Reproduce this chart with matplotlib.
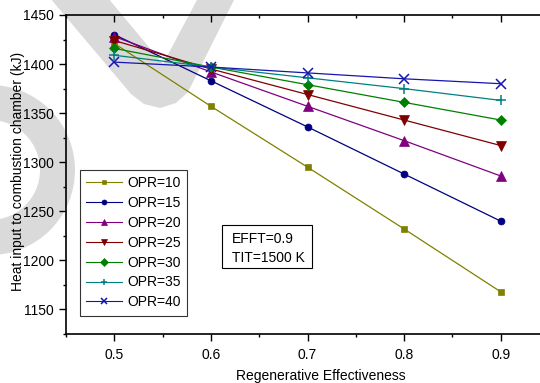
import matplotlib
matplotlib.use("Agg")
import matplotlib.pyplot as plt
from matplotlib.patches import Polygon, Wedge, Rectangle
from matplotlib.transforms import IdentityTransform
from matplotlib.ticker import MultipleLocator

plt.rcParams['font.family'] = ['Liberation Sans', 'DejaVu Sans']

W, H = 540, 383
DPI = 100

x_vals = [0.5, 0.6, 0.7, 0.8, 0.9]
labels = ["OPR=10", "OPR=15", "OPR=20", "OPR=25", "OPR=30", "OPR=35", "OPR=40"]
opr10 = [1421, 1357, 1295, 1232, 1168]
opr15 = [1430, 1383, 1336, 1288, 1240]
opr20 = [1428, 1392, 1357, 1322, 1286]
opr25 = [1424, 1395, 1369, 1343, 1317]
opr30 = [1416, 1397, 1379, 1361, 1343]
opr35 = [1409, 1397, 1386, 1375, 1363]
opr40 = [1402, 1397, 1391, 1385, 1380]
series = [opr10, opr15, opr20, opr25, opr30, opr35, opr40]

colors = ['#808000', '#000080', '#800080', '#800000', '#008000', '#008080', '#1515b0']
markers = ['s', 'o', '^', 'v', 'D', '+', 'x']
msizes = [4.6, 5.0, 6.5, 6.5, 5.0, 6.5, 6.5]
leg_msizes = [3.2, 3.6, 5.0, 5.0, 3.8, 4.6, 5.0]

fig = plt.figure(figsize=(W / DPI, H / DPI), dpi=DPI)


def fx(x):
    return x / W


def fy(y):
    return (H - y) / H


# watermark shapes (pixel coordinates, y down)
wm = '#dadada'
v_pts = [(50, -2), (108, -2), (163, 64), (198, -2), (235, -2), (188, 92),
         (176, 103), (160, 108), (144, 104), (131, 94)]
fig.add_artist(Polygon([(p[0], H - p[1]) for p in v_pts], closed=True,
                       facecolor=wm, edgecolor='none', transform=IdentityTransform(),
                       zorder=-10))
fig.add_artist(Wedge((-10, H - 170), 85, 0, 360, width=35, facecolor=wm,
                     edgecolor='none', transform=IdentityTransform(), zorder=-10))

ax = fig.add_axes([fx(66), fy(334), (549 - 66) / W, (334 - 15) / H])
ax.patch.set_alpha(0)

for ys, c, m, ms, lab in zip(series, colors, markers, msizes, labels):
    mew = 1.1 if m in ('+', 'x') else 0.5
    ax.plot(x_vals, ys, color=c, marker=m, markersize=ms, linewidth=0.9,
            markeredgewidth=mew, markerfacecolor=c, markeredgecolor=c, label=lab)

ax.set_xlim(0.45, 0.95)
ax.set_ylim(1125, 1450)
ax.xaxis.set_major_locator(MultipleLocator(0.1))
ax.xaxis.set_minor_locator(MultipleLocator(0.05))
ax.yaxis.set_major_locator(MultipleLocator(50))
ax.yaxis.set_minor_locator(MultipleLocator(25))
ax.set_xticks([0.5, 0.6, 0.7, 0.8, 0.9])
ax.set_xticklabels(['0.5', '0.6', '0.7', '0.8', '0.9'])
ax.set_yticks([1150, 1200, 1250, 1300, 1350, 1400, 1450])

for s in ax.spines.values():
    s.set_linewidth(1.2)
ax.spines['right'].set_visible(False)

ax.tick_params(axis='x', which='both', bottom=True, top=True, labelsize=10, pad=5)
ax.tick_params(axis='x', which='major', direction='out', length=5, width=1.0)
ax.tick_params(axis='x', which='minor', direction='out', length=2.5, width=1.0)
ax.tick_params(axis='y', which='major', direction='out', length=5, width=1.0, labelsize=10, pad=4)
ax.tick_params(axis='y', which='minor', direction='out', length=2.5, width=1.0)
# top ticks point inward
for t in ax.xaxis.get_major_ticks() + ax.xaxis.get_minor_ticks():
    t.tick2line.set_marker(3)

fig.text(fx(321), fy(376), 'Regenerative Effectiveness', ha='center', va='center', fontsize=10)
fig.text(fx(18), fy(171), 'Heat input to combustion chamber (kJ)', ha='center', va='center',
         rotation=90, fontsize=10)

leg = ax.legend(loc='upper left', bbox_to_anchor=(fx(81.5) - fx(66), 1 - (170 - 15) / 319),
                bbox_transform=ax.transAxes, fontsize=10, frameon=True, fancybox=False,
                handlelength=2.6, handletextpad=0.35, labelspacing=0.42, borderpad=0.45,
                borderaxespad=0)
leg.get_frame().set_edgecolor('black')
leg.get_frame().set_linewidth(0.8)
for h, lms in zip(leg.legend_handles, leg_msizes):
    h.set_markersize(lms)
    h.set_linewidth(0.8)

fig.add_artist(Rectangle((fx(221.7), fy(268.3)), (311.7 - 221.7) / W, (268.3 - 225) / H,
                         transform=fig.transFigure, facecolor='white', edgecolor='black',
                         linewidth=0.8))
fig.text(fx(231.5), fy(239), 'EFFT=0.9', ha='left', va='center', fontsize=10)
fig.text(fx(231.5), fy(258), 'TIT=1500 K', ha='left', va='center', fontsize=10)

fig.savefig('out.png', dpi=DPI)
